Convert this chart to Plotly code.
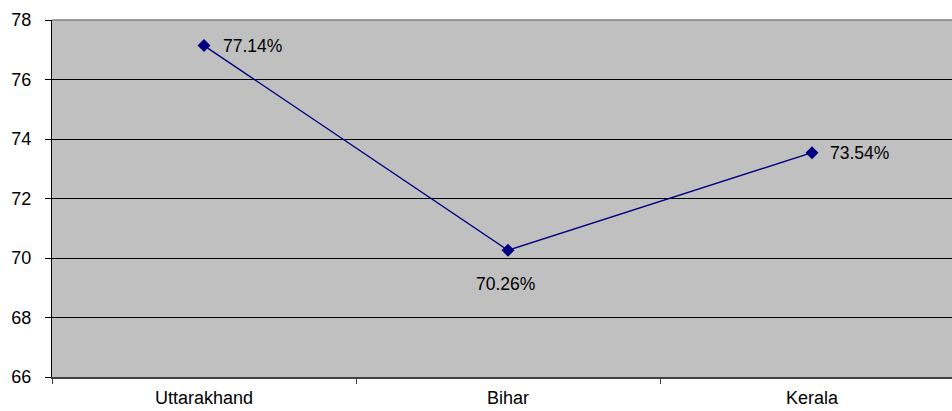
import plotly.graph_objects as go

states = ["Uttarakhand", "Bihar", "Kerala"]
rates = [77.14, 70.26, 73.54]
y_ticks = [66, 68, 70, 72, 74, 76, 78]

# label placement per point: (xanchor, xshift, yshift)
label_offsets = [("left", 17, 0), ("center", -3, -34), ("left", 16, 0)]

FONT = "Liberation Sans, Arial, sans-serif"

fig = go.Figure()
fig.add_trace(go.Scatter(
    x=states,
    y=rates,
    mode="lines+markers",
    line=dict(color="#000080", width=1.4),
    marker=dict(symbol="diamond", size=10, color="#000080"),
    cliponaxis=False,
    hoverinfo="skip",
))

for state, value, (anchor, dx, dy) in zip(states, rates, label_offsets):
    fig.add_annotation(
        x=state, y=value, text=f"{value:.2f}%",
        showarrow=False, xanchor=anchor, yanchor="middle",
        xshift=dx, yshift=dy,
        font=dict(family=FONT, size=17.5, color="#000000"),
    )

fig.update_layout(
    width=952,
    height=411,
    margin=dict(l=52, r=0, t=20, b=34),
    paper_bgcolor="#ffffff",
    plot_bgcolor="#c0c0c0",
    showlegend=False,
    font=dict(family=FONT, size=18, color="#000000"),
)

fig.update_xaxes(
    type="category",
    range=[-0.5, 2.4605],
    automargin=False,
    tickson="boundaries",
    ticks="outside",
    ticklen=5,
    tickcolor="#404040",
    ticklabelstandoff=3,
    showgrid=False,
    showline=True,
    linecolor="#404040",
    linewidth=2,
    tickfont=dict(family=FONT, size=18),
    zeroline=False,
)

fig.update_yaxes(
    range=[66, 78],
    automargin=False,
    tickvals=y_ticks,
    ticks="outside",
    ticklen=6,
    tickcolor="#000000",
    ticklabelstandoff=10,
    showgrid=True,
    gridcolor="#000000",
    gridwidth=1,
    showline=True,
    linecolor="#000000",
    linewidth=1,
    tickfont=dict(family=FONT, size=18),
    zeroline=False,
)

# light border along the top of the plot area
fig.add_shape(type="line", xref="paper", yref="paper", x0=0, x1=1, y0=1, y1=1,
              line=dict(color="#808080", width=1.5))

fig.write_html("out.html")
